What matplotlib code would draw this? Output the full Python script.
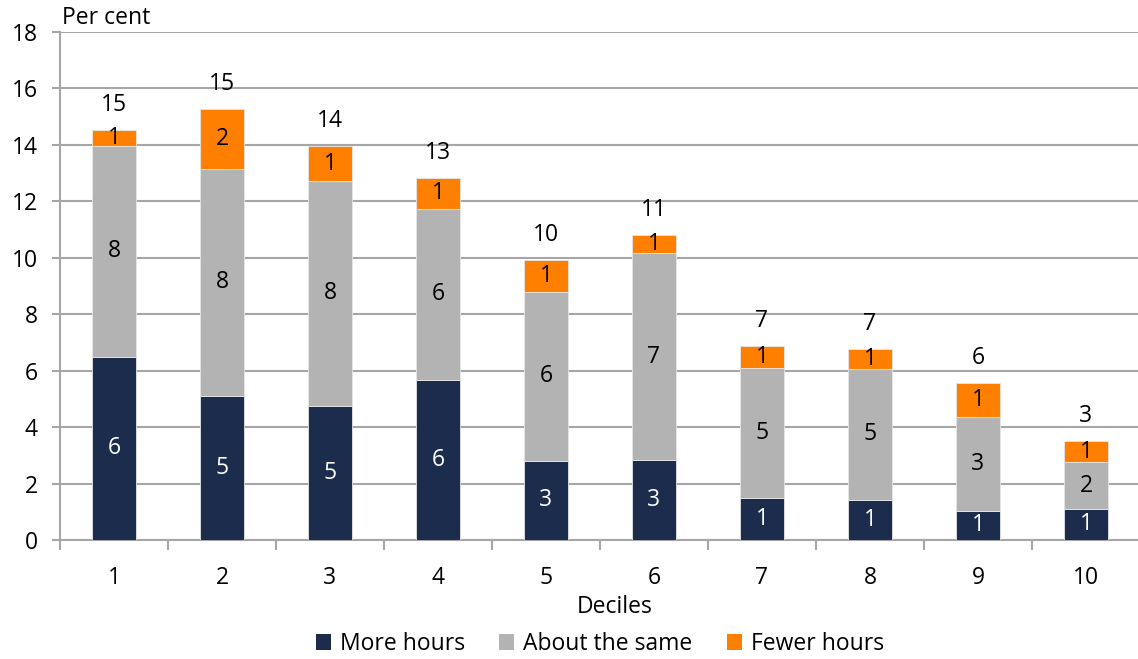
import matplotlib
matplotlib.use("Agg")
import matplotlib.pyplot as plt
from matplotlib.patches import Patch
import numpy as np

plt.rcParams["font.family"] = ["Open Sans", "DejaVu Sans"]

# ---- data ----
deciles = ["1", "2", "3", "4", "5", "6", "7", "8", "9", "10"]
more_hours = [6.5, 5.1, 4.75, 5.67, 2.8, 2.83, 1.49, 1.42, 1.03, 1.1]
about_same = [7.45, 8.05, 7.97, 6.06, 5.99, 7.34, 4.61, 4.64, 3.33, 1.66]
fewer_hours = [0.57, 2.12, 1.24, 1.1, 1.13, 0.64, 0.77, 0.71, 1.2, 0.75]

more_labels = ["6", "5", "5", "6", "3", "3", "1", "1", "1", "1"]
same_labels = ["8", "8", "8", "6", "6", "7", "5", "5", "3", "2"]
fewer_labels = ["1", "2", "1", "1", "1", "1", "1", "1", "1", "1"]
total_labels = ["15", "15", "14", "13", "10", "11", "7", "7", "6", "3"]

series_names = ["More hours", "About the same", "Fewer hours"]
colors = ["#1b2c4c", "#b3b3b3", "#ff7f00"]
grid_col = "#a6a6a6"
FS = 16.5

W, H = 1138, 659
fig = plt.figure(figsize=(W / 100, H / 100), dpi=100)
ax = fig.add_axes([60 / W, (H - 540) / H, 1080 / W, 508 / H])

x = np.arange(len(deciles))
more = np.array(more_hours)
same = np.array(about_same)
fewer = np.array(fewer_hours)
width = 0.405

ax.bar(x, more, width, color=colors[0], edgecolor="#e6e6e6", linewidth=0.6, zorder=3)
ax.bar(x, same, width, bottom=more, color=colors[1], edgecolor="#e6e6e6", linewidth=0.6, zorder=3)
ax.bar(x, fewer, width, bottom=more + same, color=colors[2], edgecolor="#e6e6e6", linewidth=0.6, zorder=3)

for i in range(len(deciles)):
    ax.text(x[i], more[i] / 2, more_labels[i], ha="center", va="center",
            color="white", fontsize=FS, zorder=4)
    ax.text(x[i], more[i] + same[i] / 2, same_labels[i], ha="center", va="center",
            color="black", fontsize=FS, zorder=4)
    ax.text(x[i], more[i] + same[i] + fewer[i] / 2, fewer_labels[i], ha="center",
            va="center", color="black", fontsize=FS, zorder=4)
    top = more[i] + same[i] + fewer[i]
    ax.annotate(total_labels[i], (x[i], top), xytext=(0, 18), textcoords="offset points",
                ha="center", va="center", fontsize=FS, zorder=4)

ax.set_xlim(-0.5, len(deciles) - 0.5)
ax.set_ylim(0, 18)
ax.set_yticks(np.arange(0, 19, 2))
ax.yaxis.grid(True, color=grid_col, linewidth=1.5, zorder=0)
ax.set_axisbelow(True)

# major ticks at category boundaries, labels on minor ticks at centres
ax.set_xticks(np.arange(-0.5, len(deciles), 1.0))
ax.set_xticklabels([])
ax.set_xticks(x, minor=True)
ax.set_xticklabels(deciles, minor=True, fontsize=FS)
ax.tick_params(axis="x", which="major", length=7, width=1.5, color=grid_col, direction="out")
ax.tick_params(axis="x", which="minor", length=0, pad=19)
ax.tick_params(axis="y", length=6, width=1.5, color=grid_col, labelsize=FS, pad=10)

for s in ["top", "right"]:
    ax.spines[s].set_visible(False)
for s in ["left", "bottom"]:
    ax.spines[s].set_color(grid_col)
    ax.spines[s].set_linewidth(1.5)

fig.text(62 / W, 1 - 18 / H, "Per cent", ha="left", va="center", fontsize=FS)
fig.text(615 / W, 1 - 607 / H, "Deciles", ha="center", va="center", fontsize=FS)

handles = [Patch(facecolor=c, edgecolor="none") for c in colors]
fig.legend(handles, series_names, loc="center", bbox_to_anchor=(600 / W, 1 - 644 / H),
           ncol=3, frameon=False, fontsize=FS, handlelength=0.65, handleheight=0.65,
           handletextpad=0.4, columnspacing=1.5, borderaxespad=0)

fig.savefig("out.png", dpi=100)
